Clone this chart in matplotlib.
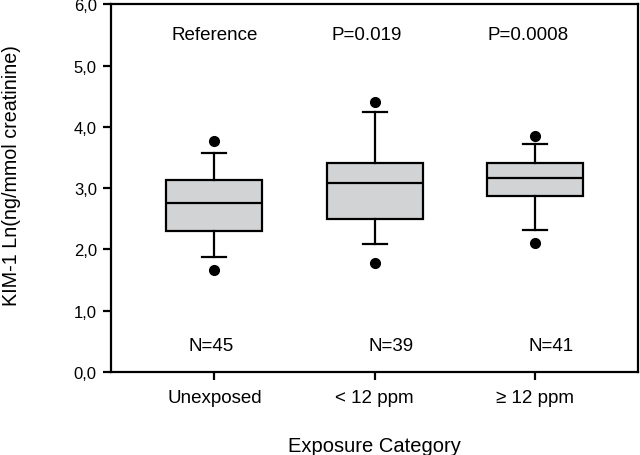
import numpy as np
import matplotlib.pyplot as plt

plt.rcParams['font.family'] = ['Liberation Sans', 'DejaVu Sans']

# values
groups = ['Unexposed', '< 12 ppm', '≥ 12 ppm']
q1 = [2.30, 2.49, 2.87]
med = [2.76, 3.09, 3.16]
q3 = [3.13, 3.42, 3.42]
whis_lo = [1.87, 2.09, 2.32]
whis_hi = [3.58, 4.25, 3.72]
fliers = [[3.77, 1.66], [4.41, 1.78], [3.85, 2.11]]
p_text = ['Reference', 'P=0.019', 'P=0.0008']
n_text = ['N=45', 'N=39', 'N=41']

stats = []
for i in range(len(groups)):
    stats.append({'med': med[i], 'q1': q1[i], 'q3': q3[i],
                  'whislo': whis_lo[i], 'whishi': whis_hi[i],
                  'fliers': fliers[i], 'label': groups[i]})

fig = plt.figure(figsize=(6.4, 4.56), dpi=100)
ax = fig.add_axes([0.173, 0.182, 0.824, 0.806])

pos = np.arange(1, len(groups) + 1)
ax.bxp(stats, positions=pos, widths=0.6, patch_artist=True,
       boxprops=dict(facecolor='#d2d3d5', edgecolor='black', linewidth=1.6),
       medianprops=dict(color='black', linewidth=1.6),
       whiskerprops=dict(color='black', linewidth=1.6),
       capprops=dict(color='black', linewidth=1.6),
       capwidths=0.15,
       flierprops=dict(marker='o', markerfacecolor='black',
                       markeredgecolor='black', markersize=7))

# text above and below each box
p_x = [1.0, 1.95, 2.96]
n_x = [0.98, 2.10, 3.10]
for i in range(len(groups)):
    ax.text(p_x[i], 5.51, p_text[i], ha='center', va='center', fontsize=13.5)
    ax.text(n_x[i], 0.43, n_text[i], ha='center', va='center', fontsize=13.5)

ax.set_xlim(0.352, 3.646)
ax.set_ylim(0, 6)
ax.set_yticks(np.arange(0, 6.1, 1))
ax.set_yticklabels([f'{v:.1f}'.replace('.', ',') for v in np.arange(0, 6.1, 1)])
ax.set_xticks(pos)
ax.set_xticklabels(groups)

for s in ax.spines.values():
    s.set_linewidth(1.6)
ax.tick_params(axis='both', direction='out', length=6, width=1.6)
ax.tick_params(axis='x', labelsize=13.5, pad=6)
ax.tick_params(axis='y', labelsize=12, pad=4)

ax.set_xlabel('Exposure Category', fontsize=14.5)
ax.set_ylabel('KIM-1 Ln(ng/mmol creatinine)', fontsize=14.2)
ax.xaxis.set_label_coords(0.5, -0.2)
ax.yaxis.set_label_coords(-0.188, 0.537)
ax.xaxis.label.set_va('center')
ax.yaxis.label.set_va('center')

fig.savefig('out.png', dpi=100)
